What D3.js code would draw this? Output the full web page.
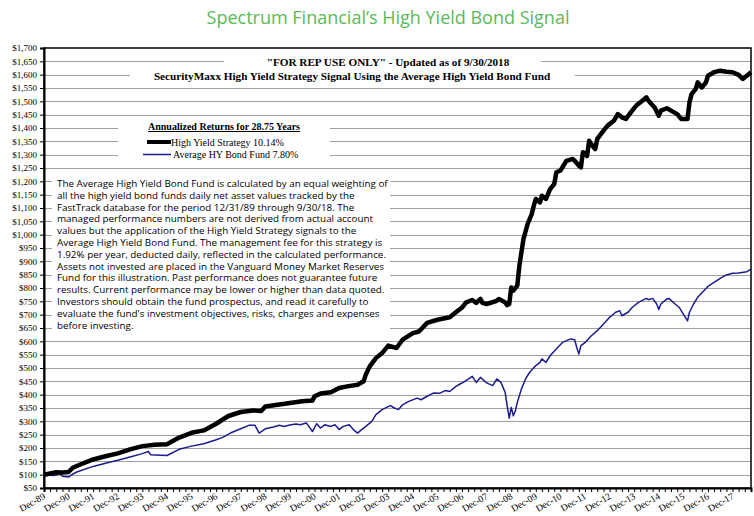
<!DOCTYPE html>
<html lang="en">
<head>
    <meta charset="UTF-8">
    <title>Spectrum Financial's High Yield Bond Signal</title>
    <script src="https://d3js.org/d3.v7.min.js"></script>
    <style>
        body {
            margin: 0;
            background: #fff;
        }

        svg {
            display: block;
        }

        .grid line {
            stroke: #a0a0a0;
            stroke-width: 1px;
        }

        .serif {
            font-family: "Liberation Serif", "Times New Roman", serif;
        }
    </style>
</head>
<body>
    <div id="chart"></div>

    <script>
        // High Yield Strategy (black)
        const hyDates = [
            "1989-12", "1990-06", "1990-09", "1990-12", "1991-02", "1991-06", "1991-12", "1992-06", "1992-12",
            "1993-06", "1993-12", "1994-06", "1994-12", "1995-06", "1995-12", "1996-06", "1996-12", "1997-06",
            "1997-12", "1998-06", "1998-10", "1998-12", "1999-06", "1999-12", "2000-06", "2000-11", "2000-12",
            "2001-03", "2001-08", "2001-12", "2002-04", "2002-09", "2002-12", "2003-01", "2003-03", "2003-06",
            "2003-09", "2003-12", "2004-04", "2004-07", "2004-12", "2005-03", "2005-07", "2005-12", "2006-06",
            "2006-09", "2006-12", "2007-02", "2007-05", "2007-07", "2007-09", "2007-10", "2007-12", "2008-05",
            "2008-06", "2008-09", "2008-10", "2008-11", "2008-12", "2009-01", "2009-03", "2009-04", "2009-05",
            "2009-06", "2009-08", "2009-10", "2009-11", "2009-12", "2010-02", "2010-03", "2010-05", "2010-07",
            "2010-09", "2010-10", "2010-12", "2011-03", "2011-06", "2011-07", "2011-09", "2011-10", "2011-11",
            "2011-12", "2012-01", "2012-02", "2012-03", "2012-05", "2012-06", "2012-09", "2012-11", "2013-02",
            "2013-04", "2013-06", "2013-08", "2013-11", "2014-01", "2014-04", "2014-06", "2014-07", "2014-10",
            "2014-12", "2015-01", "2015-04", "2015-06", "2015-09", "2015-11", "2016-02", "2016-03", "2016-04",
            "2016-06", "2016-07", "2016-09", "2016-11", "2016-12", "2017-03", "2017-06", "2017-09", "2017-12",
            "2018-03", "2018-05", "2018-07", "2018-09"
        ];
        const hyValues = [
            100, 109, 108, 110, 126, 139, 157, 169, 180,
            195, 207, 212, 214, 239, 257, 266, 291, 320,
            335, 341, 339, 356, 362, 369, 375, 378, 394,
            404, 409, 425, 431, 437, 450, 475, 506, 537,
            556, 584, 575, 606, 631, 637, 669, 681, 690,
            709, 727, 746, 755, 744, 759, 744, 740, 752,
            759, 746, 736, 740, 802, 790, 809, 884, 934,
            984, 1040, 1077, 1109, 1134, 1121, 1146, 1134, 1171,
            1190, 1234, 1240, 1277, 1284, 1277, 1259, 1252, 1309,
            1305, 1295, 1352, 1340, 1321, 1359, 1390, 1409, 1427,
            1452, 1440, 1434, 1465, 1484, 1502, 1515, 1502, 1477,
            1446, 1465, 1474, 1465, 1452, 1434, 1434, 1496, 1527,
            1546, 1571, 1552, 1571, 1596, 1609, 1615, 1611, 1609,
            1599, 1584, 1596, 1609
        ];

        // Average HY Bond Fund (blue)
        const fundDates = [
            "1989-12", "1990-05", "1990-08", "1990-09", "1990-12", "1991-01", "1991-04", "1991-12", "1992-07",
            "1992-12", "1993-06", "1993-12", "1994-03", "1994-04", "1994-12", "1995-06", "1995-12", "1996-06",
            "1996-12", "1997-03", "1997-07", "1997-12", "1998-04", "1998-07", "1998-09", "1998-12", "1999-04",
            "1999-07", "1999-09", "1999-12", "2000-03", "2000-05", "2000-08", "2000-11", "2001-01", "2001-03",
            "2001-05", "2001-08", "2001-10", "2001-12", "2002-02", "2002-05", "2002-07", "2002-09", "2002-11",
            "2003-01", "2003-04", "2003-06", "2003-09", "2004-01", "2004-03", "2004-05", "2004-07", "2004-10",
            "2005-02", "2005-04", "2005-07", "2005-10", "2006-01", "2006-04", "2006-06", "2006-09", "2006-11",
            "2007-01", "2007-05", "2007-07", "2007-09", "2007-12", "2008-03", "2008-05", "2008-07", "2008-09",
            "2008-10", "2008-11", "2008-12", "2009-01", "2009-02", "2009-03", "2009-05", "2009-07", "2009-09",
            "2009-12", "2010-02", "2010-03", "2010-05", "2010-07", "2010-10", "2011-01", "2011-05", "2011-07",
            "2011-08", "2011-09", "2011-10", "2011-12", "2012-03", "2012-06", "2012-09", "2012-12", "2013-03",
            "2013-05", "2013-06", "2013-09", "2013-11", "2014-02", "2014-06", "2014-07", "2014-09", "2014-11",
            "2014-12", "2015-01", "2015-04", "2015-05", "2015-08", "2015-10", "2015-12", "2016-02", "2016-03",
            "2016-05", "2016-07", "2016-10", "2016-12", "2017-03", "2017-06", "2017-09", "2017-12", "2018-03",
            "2018-07", "2018-09"
        ];
        const fundValues = [
            100, 97, 104, 94, 91, 97, 110, 131, 145,
            154, 166, 179, 187, 175, 172, 195, 207, 216,
            231, 239, 256, 272, 285, 285, 256, 272, 279,
            285, 281, 286, 290, 287, 294, 262, 291, 275,
            287, 281, 287, 269, 281, 287, 269, 256, 269,
            281, 300, 325, 344, 359, 350, 344, 362, 375,
            387, 381, 394, 406, 405, 416, 412, 431, 440,
            448, 469, 446, 465, 444, 434, 459, 446, 409,
            359, 312, 352, 321, 340, 371, 421, 459, 484,
            509, 521, 534, 521, 546, 571, 596, 609, 606,
            577, 552, 584, 595, 620, 640, 665, 690, 709,
            715, 696, 709, 727, 746, 761, 756, 761, 740,
            719, 740, 759, 761, 740, 727, 702, 677, 709,
            740, 765, 790, 806, 821, 836, 849, 855, 856,
            861, 871
        ];

        const yTicks = d3.range(50, 1701, 50);

        const legendTitle = "Annualized Returns for 28.75 Years";
        const legendItems = ["High Yield Strategy 10.14%", "Average HY Bond Fund 7.80%"];

        const headerLines = [
            "\"FOR REP USE ONLY\" - Updated as of 9/30/2018",
            "SecurityMaxx High Yield Strategy Signal Using the Average High Yield Bond Fund"
        ];

        const disclaimer = [
            "The Average High Yield Bond Fund is calculated by an equal weighting of",
            "all the high yield bond funds daily net asset values tracked by the",
            "FastTrack database  for the period 12/31/89 through 9/30/18. The",
            "managed performance numbers are not derived from actual account",
            "values but the application of the High Yield Strategy signals to the",
            "Average High Yield Bond Fund.  The management fee for this strategy is",
            "1.92% per year, deducted daily, reflected in the calculated performance.",
            "Assets not invested are placed in the Vanguard Money Market Reserves",
            "Fund for this illustration.  Past performance does not guarantee future",
            "results.  Current performance may be lower or higher than data quoted.",
            "Investors should obtain the fund prospectus, and read it carefully to",
            "evaluate the fund's investment objectives, risks, charges and expenses",
            "before investing."
        ];

        const parseMonth = d3.timeParse("%Y-%m");
        const hySeries = hyDates.map((d, i) => ({ date: parseMonth(d), value: hyValues[i] }));
        const fundSeries = fundDates.map((d, i) => ({ date: parseMonth(d), value: fundValues[i] }));

        const width = 754, height = 516;
        const plot = { left: 44, right: 751, top: 48, bottom: 488 };

        const svg = d3.select("#chart").append("svg")
            .attr("width", width)
            .attr("height", height);

        svg.append("rect").attr("width", width).attr("height", height).attr("fill", "#fff");

        const x = d3.scaleTime()
            .domain([parseMonth("1989-12"), parseMonth("2018-09")])
            .range([plot.left, plot.right]);

        const y = d3.scaleLinear()
            .domain([50, 1700])
            .range([plot.bottom, plot.top]);

        // title
        svg.append("text")
            .attr("x", 388)
            .attr("y", 24)
            .attr("text-anchor", "middle")
            .style("font-family", "'Open Sans', sans-serif")
            .style("font-size", "18px")
            .style("fill", "#5cb85c")
            .text("Spectrum Financial\u2019s High Yield Bond Signal");

        // gridlines
        svg.append("g")
            .attr("class", "grid")
            .selectAll("line")
            .data(yTicks.slice(1, -1))
            .enter().append("line")
            .attr("x1", plot.left)
            .attr("x2", plot.right)
            .attr("y1", d => Math.round(y(d)) + 0.5)
            .attr("y2", d => Math.round(y(d)) + 0.5);

        // white panels that cut the gridlines
        const panels = [
            [224, 55, 541, 68],
            [130, 69, 575, 82],
            [118, 118, 330, 162],
            [52, 172, 390, 335]
        ];
        svg.selectAll(".panel")
            .data(panels)
            .enter().append("rect")
            .attr("class", "panel")
            .attr("x", d => d[0])
            .attr("y", d => d[1])
            .attr("width", d => d[2] - d[0])
            .attr("height", d => d[3] - d[1])
            .attr("fill", "#fff");

        // header lines
        const header = svg.append("g").attr("class", "serif")
            .style("font-weight", "bold")
            .style("font-size", "11.2px");
        header.append("text").attr("x", 388).attr("y", 65.5).attr("text-anchor", "middle").text(headerLines[0]);
        header.append("text").attr("x", 352).attr("y", 79.5).attr("text-anchor", "middle").text(headerLines[1]);

        // legend
        const legend = svg.append("g").attr("class", "serif").style("font-size", "10px");
        legend.append("text")
            .attr("x", 224).attr("y", 130)
            .attr("text-anchor", "middle")
            .style("font-weight", "bold")
            .style("text-decoration", "underline")
            .text(legendTitle);
        legend.append("line").attr("x1", 147).attr("x2", 171).attr("y1", 142).attr("y2", 142)
            .attr("stroke", "#000").attr("stroke-width", 4);
        legend.append("text").attr("x", 171).attr("y", 145.5).text(legendItems[0]);
        legend.append("line").attr("x1", 143).attr("x2", 171).attr("y1", 154.5).attr("y2", 154.5)
            .attr("stroke", "#1b1b8f").attr("stroke-width", 1.5);
        legend.append("text").attr("x", 173).attr("y", 158).text(legendItems[1]);

        // disclaimer paragraph
        const para = svg.append("g")
            .style("font-family", "'Open Sans', sans-serif")
            .style("font-size", "10px")
            .style("white-space", "pre");
        const paraLines = para.selectAll("text")
            .data(disclaimer)
            .enter().append("text")
            .attr("x", 57)
            .attr("y", (d, i) => 187 + i * 11.8)
            .text(d => d);
        let widest = 0;
        paraLines.each(function() { widest = Math.max(widest, this.getComputedTextLength()); });
        para.style("font-size", (10 * 331 / widest) + "px");

        // series lines
        const line = d3.line()
            .x(d => x(d.date))
            .y(d => y(d.value));

        svg.append("path")
            .datum(fundSeries)
            .attr("fill", "none")
            .attr("stroke", "#1b1b8f")
            .attr("stroke-width", 1.5)
            .attr("stroke-linejoin", "round")
            .attr("d", line);

        svg.append("path")
            .datum(hySeries)
            .attr("fill", "none")
            .attr("stroke", "#000")
            .attr("stroke-width", 4.5)
            .attr("stroke-linejoin", "round")
            .attr("d", line);

        // frame
        svg.append("rect")
            .attr("x", plot.left)
            .attr("y", plot.top)
            .attr("width", plot.right - plot.left)
            .attr("height", plot.bottom - plot.top)
            .attr("fill", "none")
            .attr("stroke", "#000")
            .attr("stroke-width", 1.5);

        // y axis
        const yAxis = svg.append("g")
            .attr("class", "serif")
            .attr("transform", `translate(${plot.left},0)`)
            .call(d3.axisLeft(y).tickValues(yTicks).tickFormat(d3.format("$,")).tickSize(4).tickPadding(3));
        yAxis.select(".domain").attr("stroke-width", 2);
        yAxis.selectAll("text").style("font-size", "9px").style("font-family", "'Liberation Serif', serif");

        // x axis: quarterly ticks, labels every December
        const quarters = d3.timeMonth.range(parseMonth("1989-12"), parseMonth("2018-10"), 3);
        const xAxis = svg.append("g")
            .attr("transform", `translate(0,${plot.bottom})`)
            .call(d3.axisBottom(x).tickValues(quarters).tickSize(4).tickFormat(""));
        xAxis.select(".domain").attr("stroke-width", 2);

        const decembers = quarters.filter(d => d.getMonth() === 11);
        svg.append("g")
            .attr("class", "serif")
            .style("font-size", "9.5px")
            .selectAll("text")
            .data(decembers)
            .enter().append("text")
            .attr("text-anchor", "end")
            .attr("transform", d => `translate(${x(d) + 2},${plot.bottom + 10}) rotate(-30)`)
            .text(d3.timeFormat("Dec-%y"));
    </script>
</body>
</html>
